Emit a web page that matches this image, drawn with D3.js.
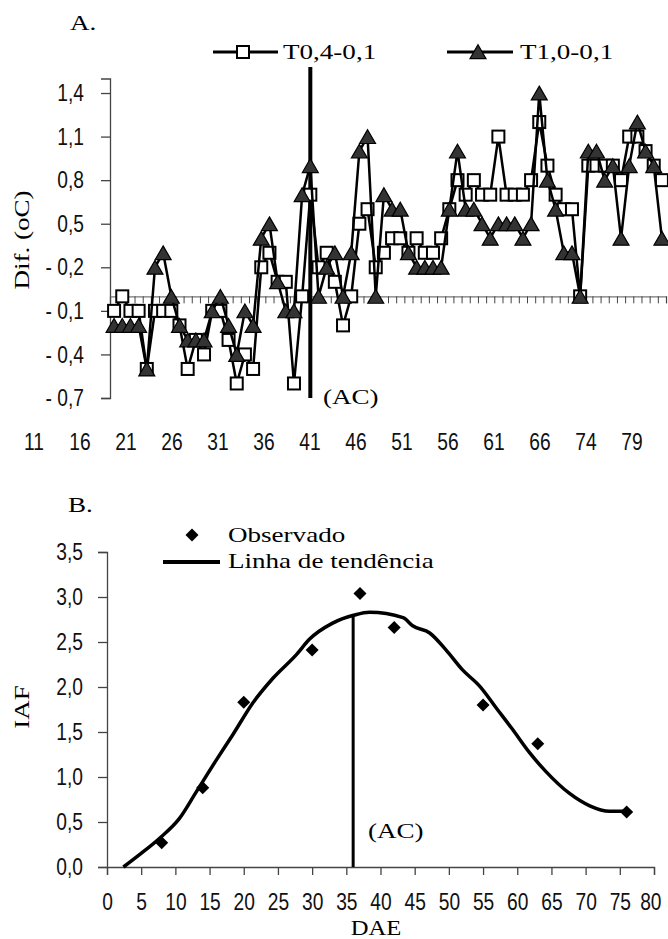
<!DOCTYPE html>
<html>
<head>
<meta charset="utf-8">
<script src="https://cdn.jsdelivr.net/npm/d3@7"></script>
<style>
    body { margin: 0; background: #fff; }
    svg { display: block; }
    .num { font-family: "Liberation Sans", Arial, sans-serif; font-size: 24px; fill: #111; }
    .ser { font-family: "Liberation Serif", "Times New Roman", serif; font-size: 22px; fill: #000; }
</style>
</head>
<body>
<div id="main"></div>
<script>

// A. - diferenca de temperatura
var serieT04 = [-0.1, 0.0, -0.1, -0.1, -0.5, -0.1, -0.1, -0.1, -0.2, -0.5,
    -0.3, -0.4, -0.1, -0.1, -0.3, -0.6, -0.4, -0.5, 0.2, 0.3,
    0.1, 0.1, -0.6, 0.0, 0.7, 0.2, 0.3, 0.1, -0.2, 0.0,
    0.5, 0.6, 0.2, 0.3, 0.4, 0.4, 0.3, 0.4, 0.3, 0.3,
    0.4, 0.6, 0.8, 0.7, 0.8, 0.7, 0.7, 1.1, 0.7, 0.7,
    0.7, 0.8, 1.2, 0.9, 0.7, 0.6, 0.6, 0.0, 0.9, 0.9,
    0.9, 0.9, 0.8, 1.1, 1.1, 1.0, 0.9, 0.8];
var serieT10 = [-0.2, -0.2, -0.2, -0.2, -0.5, 0.2, 0.3, 0.0, -0.2, -0.3,
    -0.3, -0.3, -0.1, 0.0, -0.2, -0.4, -0.1, -0.2, 0.4, 0.5,
    0.1, -0.1, -0.1, 0.7, 0.9, 0.0, 0.2, 0.3, 0.0, 0.3,
    1.0, 1.1, 0.0, 0.7, 0.6, 0.6, 0.3, 0.2, 0.2, 0.2,
    0.2, 0.6, 1.0, 0.6, 0.6, 0.5, 0.4, 0.5, 0.5, 0.5,
    0.4, 0.5, 1.4, 0.8, 0.6, 0.3, 0.3, 0.0, 1.0, 1.0,
    0.8, 0.9, 0.4, 0.9, 1.2, 1.0, 0.9, 0.4];
var yTicksA = [-0.7, -0.4, -0.1, 0.2, 0.5, 0.8, 1.1, 1.4];
var yLabelsA = ["- 0,7", "- 0,4", "- 0,1", "- 0,2", "0,5", "0,8", "1,1", "1,4"];
var xLabelsA = ["11", "16", "21", "26", "31", "36", "41", "46", "51", "56", "61", "66", "74", "79"];
var acIndexA = 24;

// B. - IAF
var obsDAE = [8, 14, 20, 30, 37, 42, 55, 63, 76];
var obsIAF = [0.27, 0.88, 1.83, 2.41, 3.04, 2.66, 1.80, 1.37, 0.61];
var trendDAE = [2.4, 4.8, 7.7, 10.6, 13.1, 16.0, 18.4, 21.3, 24.3, 27.7, 29.6, 33.0, 36.2, 38.4,
    43.3, 44.7, 47.2, 49.6, 52.0, 54.5, 56.9, 59.3, 61.8, 64.2, 67.6, 70.6, 73.5, 75.7];
var trendIAF = [0, 0.14, 0.32, 0.54, 0.84, 1.19, 1.47, 1.82, 2.10, 2.36, 2.53, 2.71, 2.80, 2.83,
    2.77, 2.68, 2.60, 2.41, 2.19, 2.01, 1.77, 1.53, 1.27, 1.06, 0.82, 0.68, 0.62, 0.62];
var yTicksB = [0, 0.5, 1, 1.5, 2, 2.5, 3, 3.5];
var xTicksB = [0, 5, 10, 15, 20, 25, 30, 35, 40, 45, 50, 55, 60, 65, 70, 75, 80];
var acDAE = 36;

var ptBR = d3.formatLocale({ decimal: ",", thousands: ".", grouping: [3], currency: ["", ""] });
var fmt1 = ptBR.format(".1f");
var stretch = 1.23; // serif text is wider than tall in the figure

var svg = d3.select("#main").append("svg")
    .attr("width", 668)
    .attr("height", 939);

// serif text, a bit stretched horizontally
function serifText(x, y, txt, anchor, rotate) {
    var g = svg.append("g")
        .attr("transform", "translate(" + x + "," + y + ")" + (rotate ? " rotate(" + rotate + ")" : ""));
    g.append("text")
        .attr("class", "ser")
        .attr("transform", "scale(" + stretch + ",1)")
        .attr("text-anchor", anchor || "start")
        .text(txt);
    return g;
}

// numbers in the figure use a narrow face
function narrow(sel) {
    sel.each(function () {
        var w = this.getComputedTextLength();
        if (w > 0) {
            d3.select(this).attr("textLength", w * 0.8).attr("lengthAdjust", "spacingAndGlyphs");
        }
    });
}

function styleAxis(g) {
    g.selectAll("path.domain").attr("stroke", "#444").attr("stroke-width", 1.3);
    g.selectAll(".tick line").attr("stroke", "#444").attr("stroke-width", 1.3);
    g.selectAll(".tick text").attr("class", "num").attr("font-family", null).attr("font-size", null);
    g.selectAll(".tick text").call(narrow);
}

/** Chart A ------------------------------------------------------------ */
var idx = serieT04.map(function (d, i) { return i; });

var xA = d3.scaleBand().domain(idx).range([110, 666]).padding(0);
var xEdges = d3.scaleLinear().domain([0, idx.length]).range([110, 666]);
var yA = d3.scaleLinear().domain([-0.7, 1.5]).range([398, 78.5]);
var cx = function (i) { return xA(i) + xA.bandwidth() / 2; };

svg.append("g")
    .attr("transform", "translate(110,0)")
    .call(d3.axisLeft(yA).tickValues(yTicksA).tickSize(9).tickPadding(17)
        .tickFormat(function (d, i) { return yLabelsA[i]; }))
    .call(styleAxis);

// zero line with category tick marks
var xAxisA = svg.append("g")
    .attr("transform", "translate(0," + yA(0) + ")")
    .call(d3.axisBottom(xEdges).tickValues(d3.range(idx.length + 1)).tickSize(7).tickFormat(""))
    .call(styleAxis);
xAxisA.selectAll("path.domain").attr("stroke", "#777");
xAxisA.selectAll(".tick line").attr("stroke-width", 1);

var xLab = d3.scalePoint().domain(xLabelsA).range([34, 632]);
svg.append("g").selectAll("text")
    .data(xLabelsA)
    .enter().append("text")
    .attr("class", "num")
    .attr("text-anchor", "middle")
    .attr("x", function (d) { return xLab(d); })
    .attr("y", 450)
    .text(function (d) { return d; })
    .call(narrow);

var lineA = d3.line()
    .x(function (d, i) { return cx(i); })
    .y(function (d) { return yA(d); });

// AC marker line
svg.append("line")
    .attr("x1", cx(acIndexA))
    .attr("x2", cx(acIndexA))
    .attr("y1", yA(1.58))
    .attr("y2", yA(-0.7))
    .attr("stroke", "#000")
    .attr("stroke-width", 4);

svg.append("path")
    .datum(serieT04)
    .attr("d", lineA)
    .attr("fill", "none")
    .attr("stroke", "#000")
    .attr("stroke-width", 2.5);

svg.append("g").selectAll("rect")
    .data(serieT04)
    .enter().append("rect")
    .attr("x", function (d, i) { return cx(i) - 6; })
    .attr("y", function (d) { return yA(d) - 6; })
    .attr("width", 12)
    .attr("height", 12)
    .attr("fill", "#fff")
    .attr("stroke", "#000")
    .attr("stroke-width", 2);

svg.append("path")
    .datum(serieT10)
    .attr("d", lineA)
    .attr("fill", "none")
    .attr("stroke", "#000")
    .attr("stroke-width", 2.5);

var tri = d3.symbol().type(d3.symbolTriangle).size(110);
svg.append("g").selectAll("path")
    .data(serieT10)
    .enter().append("path")
    .attr("d", tri)
    .attr("transform", function (d, i) {
        return "translate(" + cx(i) + "," + (yA(d) + 2.3) + ")";
    })
    .attr("fill", "#333")
    .attr("stroke", "#000")
    .attr("stroke-width", 1.2);

serifText(323, 404, "(AC)");
serifText(70, 30, "A.");
serifText(21, 240, "Dif. (oC)", "middle", -90).select("text").attr("dy", "0.35em");

// legend A
svg.append("line").attr("x1", 213).attr("x2", 278).attr("y1", 52).attr("y2", 52)
    .attr("stroke", "#000").attr("stroke-width", 3);
svg.append("rect").attr("x", 237).attr("y", 46).attr("width", 12).attr("height", 12)
    .attr("fill", "#fff").attr("stroke", "#000").attr("stroke-width", 2);
serifText(283, 59, "T0,4-0,1");
svg.append("line").attr("x1", 447).attr("x2", 513).attr("y1", 52).attr("y2", 52)
    .attr("stroke", "#000").attr("stroke-width", 3);
svg.append("path").attr("d", tri).attr("transform", "translate(478,54)")
    .attr("fill", "#333").attr("stroke", "#000").attr("stroke-width", 1.2);
serifText(520, 59, "T1,0-0,1");

/** Chart B ------------------------------------------------------------ */
var xB = d3.scaleLinear().domain([0, 80]).range([107, 654]);
var yB = d3.scaleLinear().domain([0, 3.5]).range([867, 552]);

svg.append("g")
    .attr("transform", "translate(107,0)")
    .call(d3.axisLeft(yB).tickValues(yTicksB).tickSize(9).tickPadding(15).tickFormat(fmt1))
    .call(styleAxis);

var xAxisB = svg.append("g")
    .attr("transform", "translate(0,867)")
    .call(d3.axisBottom(xB).tickValues(xTicksB).tickSize(8).tickPadding(18))
    .call(styleAxis);
// last label sits against the right edge
xAxisB.selectAll(".tick text").filter(function (d) { return d === 80; })
    .attr("text-anchor", "end").attr("x", 7);

// AC marker line
svg.append("line")
    .attr("x1", xB(acDAE)).attr("x2", xB(acDAE))
    .attr("y1", yB(0)).attr("y2", yB(2.8))
    .attr("stroke", "#000")
    .attr("stroke-width", 3);

var trendData = trendDAE.map(function (d, i) { return [d, trendIAF[i]]; });
svg.append("path")
    .datum(trendData)
    .attr("d", d3.line()
        .x(function (d) { return xB(d[0]); })
        .y(function (d) { return yB(d[1]); })
        .curve(d3.curveMonotoneX))
    .attr("fill", "none")
    .attr("stroke", "#000")
    .attr("stroke-width", 3.5);

var diamond = d3.symbol().type(d3.symbolSquare).size(85);
svg.append("g").selectAll("path")
    .data(obsDAE)
    .enter().append("path")
    .attr("d", diamond)
    .attr("transform", function (d, i) {
        return "translate(" + xB(d) + "," + yB(obsIAF[i]) + ") rotate(45)";
    })
    .attr("fill", "#000");

serifText(368, 838, "(AC)");
serifText(68, 512, "B.");
serifText(21, 707, "IAF", "middle", -90).select("text").attr("dy", "0.35em");
serifText(376, 935, "DAE", "middle").select("text").style("font-size", "20px");

// legend B
svg.append("path").attr("d", diamond).attr("transform", "translate(192,535) rotate(45)").attr("fill", "#000");
serifText(228, 542, "Observado");
svg.append("line").attr("x1", 163).attr("x2", 220).attr("y1", 562).attr("y2", 562)
    .attr("stroke", "#000").attr("stroke-width", 4);
serifText(228, 568, "Linha de tendência");

</script>
</body>
</html>
